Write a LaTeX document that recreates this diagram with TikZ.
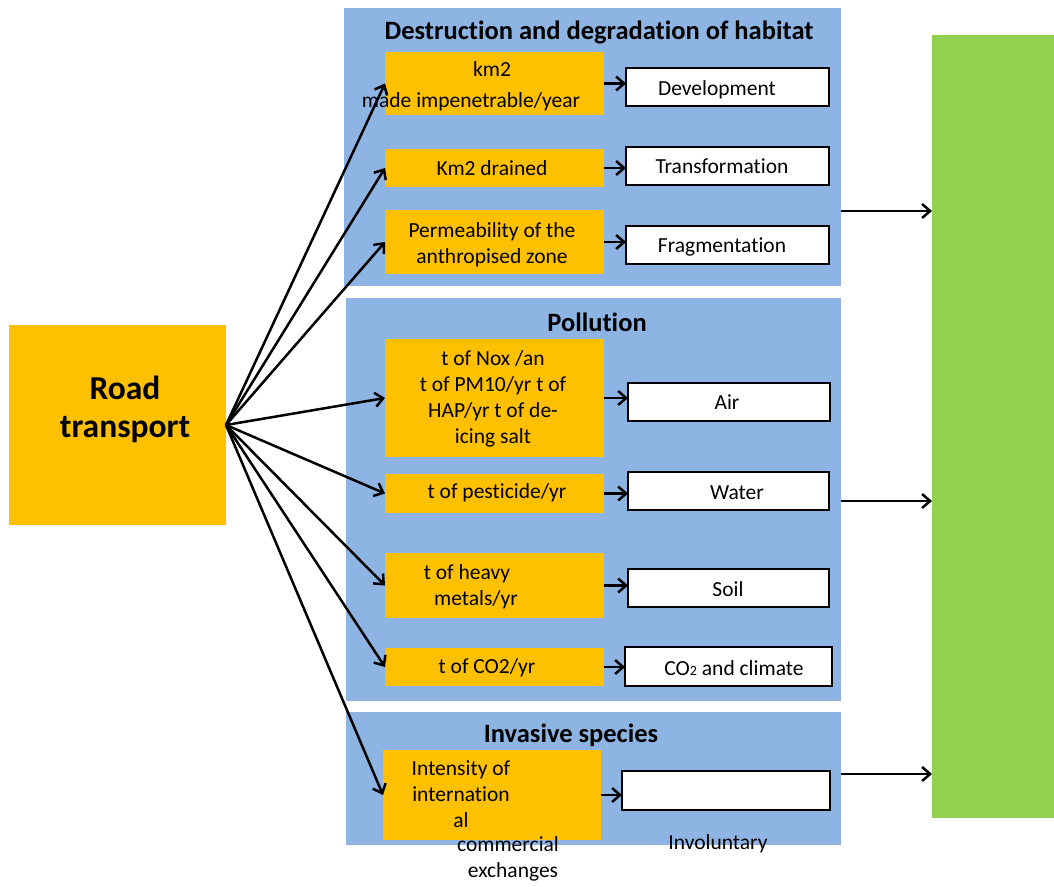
\documentclass[tikz,border=0pt]{standalone}
\usepackage{fontspec}
\setmainfont{Carlito}[Ligatures=CommonOff]
\usetikzlibrary{arrows.meta}
\definecolor{roadorange}{HTML}{FFC000}
\definecolor{panelblue}{HTML}{8EB4E3}
\definecolor{leafgreen}{HTML}{92D050}
\tikzset{
  box/.style={anchor=north west, inner sep=0pt, outer sep=0pt},
  panel/.style={box, fill=panelblue},
  obox/.style={box, fill=roadorange},
  wbox/.style={box, fill=white, draw=black, line width=1.5pt},
  body/.style={inner sep=0pt, yshift=-1.5pt, font=\fontsize{21.5}{26}\selectfont, align=center},
  heading/.style={inner sep=0pt, font=\bfseries\fontsize{26.5}{30}\selectfont},
  link/.style={line width=2.5pt, -{Straight Barb[length=8pt,width=14pt]}},
}
\begin{document}
\begin{tikzpicture}[x=1pt,y=-1pt]
\useasboundingbox (0,0) rectangle (1054,886);

% source and target
\node[obox, minimum width=217pt, minimum height=200pt] (road) at (9,325) {};
\node[inner sep=0pt, align=center, font=\bfseries\fontsize{33.5}{38}\selectfont] (roadtxt) at (125,409) {Road\\transport};
\node[box, fill=leafgreen, minimum width=122pt, minimum height=783pt] (green) at (932,35) {};

% panels
\node[panel, minimum width=497pt, minimum height=278pt] (p1) at (344,8) {};
\node[panel, minimum width=495pt, minimum height=403pt] (p2) at (346,298) {};
\node[panel, minimum width=495pt, minimum height=133pt] (p3) at (346,712) {};
\node[heading] (t1) at (599,32) {Destruction and degradation of habitat};
\node[heading] (t2) at (597,322) {Pollution};
\node[heading] (t3) at (571,735) {Invasive species};

% indicator boxes
\node[obox, minimum width=219pt, minimum height=63pt] (o1) at (385,52) {};
\node[obox, minimum width=219pt, minimum height=38pt] (o2) at (385,149) {};
\node[obox, minimum width=219pt, minimum height=64pt] (o3) at (385,210) {};
\node[obox, minimum width=219pt, minimum height=118pt] (o4) at (385,339) {};
\node[obox, minimum width=219pt, minimum height=39pt] (o5) at (385,474) {};
\node[obox, minimum width=219pt, minimum height=65pt] (o6) at (385,553) {};
\node[obox, minimum width=219pt, minimum height=38pt] (o7) at (385,648) {};
\node[obox, minimum width=218pt, minimum height=90pt] (o8) at (383,750) {};

\node[body] (o1a) at (492,68) {km2};
\node[body] (o1b) at (471,100) {made impenetrable/year};
\node[body] (o2t) at (492,167) {Km2 drained};
\node[body] (o3t) at (492,243) {Permeability of the\\anthropised zone};
\node[body] (o4t) at (493,397) {t of Nox /an\\t of PM10/yr t of\\HAP/yr t of de-\\icing salt};
\node[body] (o5t) at (497,491) {t of pesticide/yr};
\node[body] (o6t) at (467,585) {t of heavy\\\hspace*{18pt}metals/yr};
\node[body] (o7t) at (487,666) {t of CO2/yr};
\node[body] (o8a) at (461,793) {Intensity of\\internation\\al};
\node[body] (o8b) at (508,857) {commercial\\\hspace*{10pt}exchanges};

% impact boxes
\node[wbox, minimum width=203pt, minimum height=38pt] (w1) at (626,68) {};
\node[wbox, minimum width=203pt, minimum height=38pt] (w2) at (626,147) {};
\node[wbox, minimum width=203pt, minimum height=38pt] (w3) at (626,226) {};
\node[wbox, minimum width=202pt, minimum height=38pt] (w4) at (628,383) {};
\node[wbox, minimum width=201pt, minimum height=38pt] (w5) at (628,472) {};
\node[wbox, minimum width=201pt, minimum height=38pt] (w6) at (628,569) {};
\node[wbox, minimum width=207pt, minimum height=39pt] (w7) at (625,647) {};
\node[wbox, minimum width=208pt, minimum height=39pt] (w8) at (622,771) {};

\node[body] (w1t) at (717,88) {Development};
\node[body] (w2t) at (722,165) {Transformation};
\node[body] (w3t) at (722,245) {Fragmentation};
\node[body] (w4t) at (727,401) {Air};
\node[body] (w5t) at (737,491) {Water};
\node[body] (w6t) at (728,588) {Soil};
\node[body] (w7t) at (734,667) {CO{\fontsize{14}{14}\selectfont 2} and climate};
\node[body] (w8t) at (718,842) {Involuntary};

% fan of links from road transport
\coordinate (src) at (226,425);
\foreach \o in {o1,o2,o3,o4,o5,o6,o7,o8}
  \draw[link] (src) -- (\o.west);

% indicator to impact
\foreach \o/\w in {o1/w1,o2/w2,o3/w3,o4/w4,o5/w5,o6/w6,o7/w7,o8/w8}
  \draw[link] (\o.east) -- (\o.east -| \w.west);

% panels to green column
\coordinate (e1) at (841,211);
\coordinate (e2) at (841,501);
\coordinate (e3) at (841,774);
\foreach \e in {e1,e2,e3}
  \draw[link] (\e) -- (\e -| green.west);
\end{tikzpicture}
\end{document}
